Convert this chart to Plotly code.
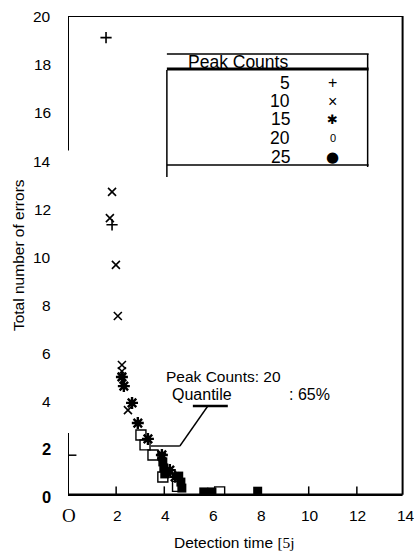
import plotly.graph_objects as go

# Detection time vs. total number of errors, grouped by peak count
pc5_x = [1.58, 1.83]
pc5_y = [19.1, 11.3]

pc10_x = [1.83, 1.74, 1.99, 2.07, 2.24, 2.24, 2.49, 3.90]
pc10_y = [12.67, 11.58, 9.63, 7.50, 5.46, 5.20, 3.58, 1.63]

pc15_x = [2.24, 2.32, 2.66, 2.90, 3.32, 3.90, 4.23, 4.45]
pc15_y = [4.96, 4.58, 3.88, 3.04, 2.38, 1.71, 1.08, 0.80]

pc20_x = [3.03, 3.20, 3.53, 3.94, 4.55, 6.30]
pc20_y = [2.54, 2.13, 1.71, 0.79, 0.40, 0.17]

pc25_x = [3.94, 3.98, 4.02, 4.60, 4.69, 4.73, 5.64, 5.98, 7.88]
pc25_y = [1.42, 1.17, 0.92, 0.83, 0.58, 0.33, 0.17, 0.17, 0.20]

legend_title = "Peak Counts"
legend_labels = ["5", "10", "15", "20", "25"]
legend_glyphs = ["+", "×", "✱", "0", "●"]

x_tick_vals = [0, 2, 4, 6, 8, 10, 12, 14]
x_tick_text = ["O", "2", "4", "6", "8", "10", "12", "14"]
y_tick_vals = [0, 2, 4, 6, 8, 10, 12, 14, 16, 18, 20]
y_tick_text = ["0", "2", "4", "6", "8", "10", "12", "14", "16", "18", "20"]

note_peak = "Peak Counts: 20"
note_quant = "Quantile"
note_pct = ": 65%"

SANS = "Liberation Sans, Arial, sans-serif"
SERIF = "Liberation Serif, Times New Roman, serif"

W, H = 414, 554
L, R, T, B = 68, 405.4, 16, 496   # plot area in pixels

def px(xp):
    return (xp - L) / (R - L)

def py(yp):
    return (B - yp) / (B - T)

fig = go.Figure()

fig.add_trace(go.Scatter(x=pc5_x, y=pc5_y, mode="markers", name="5",
                         marker=dict(symbol="cross-thin", size=8,
                                     line=dict(color="black", width=1.6))))
fig.add_trace(go.Scatter(x=pc10_x, y=pc10_y, mode="markers", name="10",
                         marker=dict(symbol="x-thin", size=8,
                                     line=dict(color="black", width=1.6))))
fig.add_trace(go.Scatter(x=pc15_x, y=pc15_y, mode="markers", name="15",
                         marker=dict(symbol="asterisk", size=10,
                                     line=dict(color="black", width=2.4))))
fig.add_trace(go.Scatter(x=pc20_x, y=pc20_y, mode="markers", name="20",
                         marker=dict(symbol="square-open", size=10,
                                     color="black",
                                     line=dict(color="black", width=1.4))))
fig.add_trace(go.Scatter(x=pc25_x, y=pc25_y, mode="markers", name="25",
                         marker=dict(symbol="square", size=9, color="black",
                                     line=dict(width=0))))

shapes = []

def seg(x0, y0, x1, y1, w=1.5, data=False):
    ref_x, ref_y = ("x", "y") if data else ("paper", "paper")
    shapes.append(dict(type="line", xref=ref_x, yref=ref_y, x0=x0, y0=y0,
                       x1=x1, y1=y1, line=dict(color="black", width=w)))

# broken frame
seg(0, 20, 13.9, 20, 2, True)
seg(13.9, 20, 13.9, 0.05, 2, True)
seg(0, 20, 0, 14.4, 2, True)
seg(0, 2.63, 0, 0, 2, True)
seg(0, 0.05, 13.9, 0.05, 2.6, True)
# inner ticks
seg(0, 1.7, 0.35, 1.7, 1.5, True)
for xv in [2, 4, 10, 12]:
    seg(xv, 0.05, xv, 0.4, 1.5, True)

# legend box
seg(px(167), py(54), px(369), py(54), 1.5)
seg(px(167), py(69), px(369), py(69), 3)
seg(px(167), py(70), px(167), py(177), 1.5)
seg(px(368), py(54), px(368), py(167), 1.5)
seg(px(167), py(165), px(369), py(165), 1.5)

# callout leader
seg(px(193), py(406), px(228), py(406), 2.6)
seg(px(208), py(406), px(180), py(446), 1.4)
seg(px(180), py(446), px(151), py(446), 1.4)

ann = []

def text(x, y, s, size=15, anchor="center", family=SANS, angle=0):
    ann.append(dict(x=x, y=y, xref="paper", yref="paper", text=s,
                    showarrow=False, xanchor=anchor, yanchor="middle",
                    textangle=angle,
                    font=dict(family=family, size=size, color="black")))

# legend texts
text(px(238), py(62), legend_title, 17.5)
rows = [83, 101, 119, 138, 157]
glyph_sizes = [16, 16, 13, 11, 15]
for yr, lab, g, gs in zip(rows, legend_labels, legend_glyphs, glyph_sizes):
    text(px(292), py(yr), lab, 17.5, "right")
    fam = "DejaVu Sans, sans-serif" if g in ("✱", "●") else SANS
    text(px(333), py(yr), g, gs, "center", fam)

# y tick labels
for v, t in zip(y_tick_vals, y_tick_text):
    if v <= 2:
        text(px(53), py(B - v * 24 + 1), "<b>" + t + "</b>", 16.5, "right")
    else:
        text(px(53), py(B - v * 24 + 1), t, 15.5, "right")

# x tick labels
xs = 24.1
for v, t in zip(x_tick_vals, x_tick_text):
    fam = SERIF if t == "O" else SANS
    sz = 19 if t == "O" else 15.5
    text(px(L + v * xs + 1), py(515), t, sz, "center", fam)

# axis titles
text(px(235), py(542),
     'Detection time <span style="font-family:Liberation Serif">[5j</span>', 15.5)
text(px(18), py(255), "Total number of errors", 15.5, "center", SANS, -90)

# annotation note
text(px(164), py(376), note_peak, 15.5, "left")
text(px(170), py(394), note_quant, 16, "left")
text(px(287), py(394), note_pct, 16, "left")

fig.update_layout(
    width=W, height=H,
    margin=dict(l=L, r=W - R, t=T, b=H - B, pad=0),
    paper_bgcolor="white", plot_bgcolor="white",
    showlegend=False,
    shapes=shapes,
    annotations=ann,
    xaxis=dict(range=[0, 14], showgrid=False, zeroline=False,
               showticklabels=False, showline=False, ticks=""),
    yaxis=dict(range=[0, 20], showgrid=False, zeroline=False,
               showticklabels=False, showline=False, ticks=""),
)

fig.write_html("out.html")
